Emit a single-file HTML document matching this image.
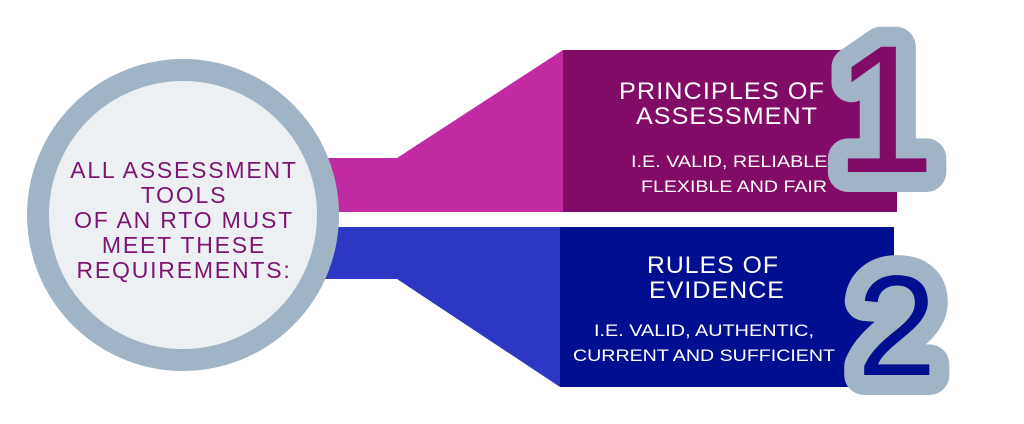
<!DOCTYPE html>
<html><head><meta charset="utf-8"><style>
html,body{margin:0;padding:0;background:#fff;width:1024px;height:424px;overflow:hidden}
svg{display:block}
</style></head><body>
<svg width="1024" height="424" viewBox="0 0 1024 424" xmlns="http://www.w3.org/2000/svg">
<polygon points="300,158 397,158 563,50 563,212 300,212" fill="#c22aa3"/>
<polygon points="300,227 560,227 560,387 397,279 300,279" fill="#2c38c4"/>
<rect x="563" y="50" width="334" height="162" fill="#820b68"/>
<rect x="560" y="227" width="334" height="160" fill="#000f8f"/>
<circle cx="183" cy="215" r="145" fill="#ecf0f3" stroke="#a1b4c5" stroke-width="22"/>
<g font-family="Liberation Sans, sans-serif" fill="#7d1470" font-size="23" text-anchor="middle" letter-spacing="1.8">
<text x="184" y="178">ALL ASSESSMENT</text>
<text x="184" y="203">TOOLS</text>
<text x="184" y="228">OF AN RTO MUST</text>
<text x="184" y="253">MEET THESE</text>
<text x="184" y="278">REQUIREMENTS:</text>
</g>
<g font-family="Liberation Sans, sans-serif" fill="#fff" text-anchor="middle">
<text x="722" y="99" font-size="24" letter-spacing="1" textLength="206" lengthAdjust="spacingAndGlyphs">PRINCIPLES OF</text>
<text x="727" y="124" font-size="24" letter-spacing="1" textLength="182" lengthAdjust="spacingAndGlyphs">ASSESSMENT</text>
<text x="732" y="167" font-size="17" textLength="202" lengthAdjust="spacingAndGlyphs">I.E. VALID, RELIABLE,</text>
<text x="734" y="192" font-size="17" textLength="186" lengthAdjust="spacingAndGlyphs">FLEXIBLE AND FAIR</text>
<text x="713" y="273" font-size="24" letter-spacing="1" textLength="132" lengthAdjust="spacingAndGlyphs">RULES OF</text>
<text x="717" y="298" font-size="24" letter-spacing="1" textLength="136" lengthAdjust="spacingAndGlyphs">EVIDENCE</text>
<text x="704" y="336" font-size="17" textLength="220" lengthAdjust="spacingAndGlyphs">I.E. VALID, AUTHENTIC,</text>
<text x="704" y="361" font-size="17" textLength="262" lengthAdjust="spacingAndGlyphs">CURRENT AND SUFFICIENT</text>
</g>
<g font-family="Liberation Sans, sans-serif" stroke="#a1b4c5" stroke-width="40" stroke-linejoin="round" paint-order="stroke">
<text x="834" y="172" font-size="182" fill="#820b68">1</text>
<text x="857" y="375" font-size="143" fill="#000f8f">2</text>
</g>
</svg>
</body></html>
